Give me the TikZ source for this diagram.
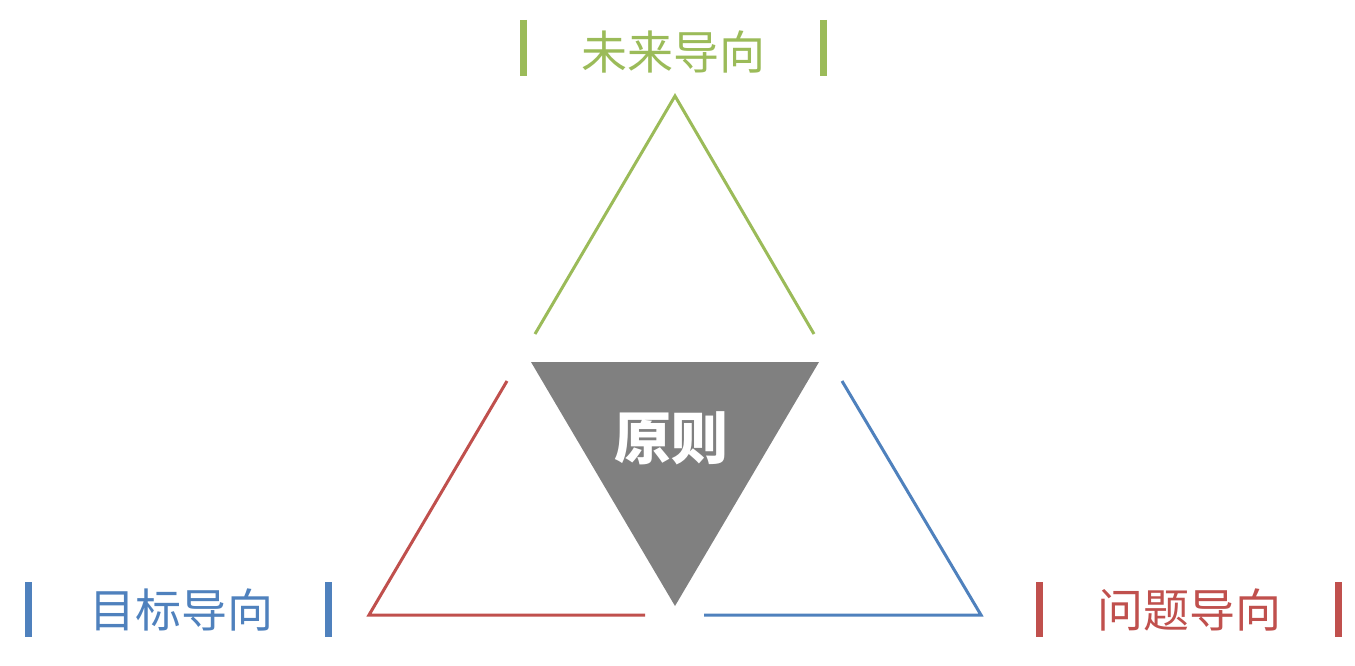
\documentclass[tikz,border=0pt]{standalone}
\usepackage{fontspec}
\newfontfamily\cjk{Noto Sans CJK SC}
\definecolor{cgreen}{HTML}{9BBB59}
\definecolor{cblue}{HTML}{4F81BD}
\definecolor{cred}{HTML}{C0504D}
\definecolor{cgray}{HTML}{808080}
\tikzset{
  edge/.style={line width=3pt},
  bar/.style={line width=6.5pt},
  lbl/.style={font=\cjk\fontsize{46}{52}\selectfont, inner sep=0pt},
}
\begin{document}
\begin{tikzpicture}[x=1pt,y=-1pt]
\useasboundingbox (0,0) rectangle (1355,666);
% green
\coordinate (gA) at (675,96);
\coordinate (gL) at (535,334);
\coordinate (gR) at (814,334);
\draw[edge,cgreen] (gL) -- (gA) -- (gR);
% red
\coordinate (rT) at (507,381);
\coordinate (rC) at (369,615);
\coordinate (rE) at (645,615);
\draw[edge,cred] (rT) -- (rC) -- (rE);
% blue
\coordinate (bT) at (842,381);
\coordinate (bC) at (981,615);
\coordinate (bE) at (704,615);
\draw[edge,cblue] (bT) -- (bC) -- (bE);
% gray triangle
\coordinate (tL) at (531,362);
\coordinate (tR) at (819,362);
\coordinate (tB) at (675,606);
\fill[cgray] (tL) -- (tR) -- (tB) -- cycle;
\node[lbl, font=\cjk\bfseries\fontsize{57}{62}\selectfont, text=white] (center) at (671,438) {原则};
% labels
\node[lbl, text=cgreen] (future) at (673,52) {未来导向};
\node[lbl, text=cblue] (goal) at (181,610) {目标导向};
\node[lbl, text=cred] (problem) at (1189,610) {问题导向};
% bars
\draw[bar,cgreen] (523.5,20) -- (523.5,76);
\draw[bar,cgreen] (823.5,20) -- (823.5,76);
\draw[bar,cblue] (28.5,582) -- (28.5,637);
\draw[bar,cblue] (328.5,582) -- (328.5,637);
\draw[bar,cred] (1039.5,582) -- (1039.5,637);
\draw[bar,cred] (1338.5,582) -- (1338.5,637);
\end{tikzpicture}
\end{document}
